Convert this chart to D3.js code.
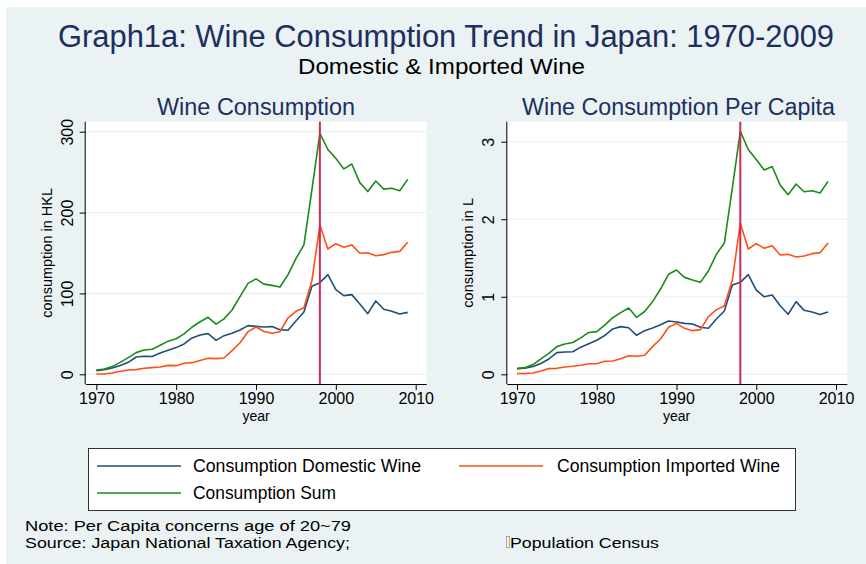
<!DOCTYPE html>
<meta charset="utf-8">
<style>
  body { margin: 0; background: #fff; }
  text { font-family: "Liberation Sans", Arial, sans-serif; }
</style>
<svg width="866" height="564"></svg>
<script src="https://cdn.jsdelivr.net/npm/d3@7"></script>
<script>
// data
var years = d3.range(1970, 2010);
var domesticHKL = [4.5, 5.8, 7.8, 11, 14.8, 21.4, 22.3, 22, 26.4, 29.7, 33, 37.5, 45, 48.6, 50.3, 42, 47.8, 50.7, 54.8, 60.2,
  59.3, 58.5, 59, 55.2, 54.4, 66, 77, 108.8, 113.3, 123.2, 104.7, 97.3, 98.5, 87, 75, 90.7, 80.4, 77.9, 74.6, 76.6];
var importedHKL = [0.4, 0.4, 1.6, 3.7, 5.4, 5.8, 7.4, 8.2, 9, 11, 10.7, 13.6, 14.4, 17, 19.8, 19.4, 20.2, 29.3, 39, 52.7,
  58.5, 53, 50.7, 52.7, 69.6, 77.9, 82.4, 115.8, 184.6, 155, 161.5, 157, 160, 149.6, 150.4, 146.7, 148, 150.8, 152, 163.2];
var sumHKL = [5.4, 6.6, 9.5, 14.8, 20.6, 26.8, 30, 31, 36, 41, 44, 50, 58.5, 65, 70.5, 62, 68.5, 79.5, 96, 112.5,
  118, 111.5, 110, 108, 123, 143, 160, 228, 298, 278, 267, 254, 260, 237, 226, 239, 229, 230, 227, 241];
var domesticPC = [0.073, 0.08, 0.1, 0.14, 0.198, 0.28, 0.288, 0.29, 0.35, 0.395, 0.44, 0.5, 0.585, 0.615, 0.6, 0.503, 0.563, 0.597, 0.64, 0.688,
  0.675, 0.657, 0.649, 0.606, 0.593, 0.713, 0.817, 1.152, 1.186, 1.285, 1.087, 1.0, 1.023, 0.885, 0.774, 0.937, 0.825, 0.804, 0.77, 0.804];
var importedPC = [0.01, 0.01, 0.017, 0.043, 0.073, 0.077, 0.095, 0.103, 0.116, 0.137, 0.137, 0.168, 0.172, 0.2, 0.24, 0.232, 0.245, 0.357, 0.455, 0.606,
  0.657, 0.593, 0.563, 0.576, 0.743, 0.834, 0.881, 1.216, 1.947, 1.616, 1.685, 1.625, 1.659, 1.539, 1.547, 1.513, 1.526, 1.556, 1.569, 1.693];
var sumPC = [0.073, 0.086, 0.125, 0.2, 0.27, 0.357, 0.39, 0.41, 0.47, 0.54, 0.55, 0.635, 0.73, 0.795, 0.855, 0.735, 0.81, 0.937, 1.10, 1.29,
  1.345, 1.25, 1.216, 1.186, 1.332, 1.547, 1.693, 2.40, 3.133, 2.90, 2.77, 2.635, 2.68, 2.44, 2.317, 2.454, 2.355, 2.368, 2.338, 2.488];
var seriesNames = ["Consumption Domestic Wine", "Consumption Imported Wine", "Consumption Sum"];
var xTicks = [1970, 1980, 1990, 2000, 2010];
var yTicksHKL = [0, 100, 200, 300];
var yTicksPC = [0, 1, 2, 3];
var markYear = 1998;

var colors = ["#1f4e79", "#ff4f14", "#1a8a1a"];
var bg = "#eaf2f3";

var svg = d3.select("svg");
svg.append("rect").attr("x", 6).attr("y", 7).attr("width", 860).attr("height", 557).attr("fill", bg);

// fixed-width text helper (the original uses a condensed font)
function label(sel, x, y, size, width, txt) {
  return sel.append("text").attr("x", x).attr("y", y).attr("font-size", size)
    .attr("textLength", width).attr("lengthAdjust", "spacingAndGlyphs").text(txt);
}

label(svg, 58, 47, 31, 776, "Graph1a: Wine Consumption Trend in Japan: 1970-2009").attr("fill", "#1e2f5e");
label(svg, 298, 74, 22, 287, "Domestic & Imported Wine").attr("fill", "#000");

function panel(o) {
  var x = d3.scaleLinear().domain([1970, 2010]).range(o.xr);
  var y = d3.scaleLinear().domain(o.yd).range(o.yr);
  var g = svg.append("g");
  // plot region
  g.append("rect").attr("x", o.box[0]).attr("y", o.box[1])
    .attr("width", o.box[2] - o.box[0]).attr("height", o.box[3] - o.box[1]).attr("fill", "#fff");
  // grid
  g.selectAll(".grid").data(o.yt).enter().append("line")
    .attr("x1", o.box[0]).attr("x2", o.box[2])
    .attr("y1", function (d) { return y(d); }).attr("y2", function (d) { return y(d); })
    .attr("stroke", bg).attr("stroke-width", 1.2);
  // axes
  var ax = g.append("g").attr("transform", "translate(0," + o.box[3] + ")")
    .call(d3.axisBottom(x).tickValues(xTicks).tickFormat(d3.format("d")).tickSize(6).tickSizeOuter(0));
  ax.select(".domain").attr("d", "M" + o.box[0] + ",0.5H" + o.box[2]).attr("stroke", "#000");
  ax.selectAll("text").attr("font-size", 16).attr("fill", "#000").attr("y", 7).attr("dy", "0.8em")
    .style("font-family", "Liberation Sans, Arial, sans-serif");
  var ay = g.append("g").attr("transform", "translate(" + o.box[0] + ",0)")
    .call(d3.axisLeft(y).tickValues(o.yt).tickFormat(d3.format("d")).tickSize(6).tickSizeOuter(0));
  ay.select(".domain").attr("d", "M-0.5," + o.box[1] + "V" + o.box[3]).attr("stroke", "#000");
  ay.selectAll("text").attr("font-size", 16).attr("fill", "#000")
    .attr("text-anchor", "middle").attr("x", null).attr("dy", null)
    .attr("transform", "translate(-13,0) rotate(-90)")
    .style("font-family", "Liberation Sans, Arial, sans-serif");
  // axis titles
  g.append("text").attr("x", (o.xr[0] + o.xr[1]) / 2).attr("y", 421).attr("text-anchor", "middle")
    .attr("font-size", 14).text("year");
  g.append("text").attr("transform", "translate(" + o.ytx + "," + ((o.box[1] + o.box[3]) / 2) + ") rotate(-90)")
    .attr("text-anchor", "middle").attr("font-size", 14.5).text(o.ylab);
  // subtitle
  label(g, o.tx[0], 115, 23.5, o.tx[1] - o.tx[0], o.title).attr("fill", "#1e2f5e");
  // lines
  var line = d3.line().x(function (d, i) { return x(years[i]); }).y(function (d) { return y(d); });
  o.series.forEach(function (s, i) {
    g.append("path").datum(s).attr("fill", "none").attr("stroke", colors[i])
      .attr("stroke-width", 1.6).attr("stroke-linejoin", "round").attr("d", line);
  });
  g.append("line").attr("x1", x(markYear)).attr("x2", x(markYear))
    .attr("y1", o.box[1]).attr("y2", o.box[3])
    .attr("stroke", "#cc2b56").attr("stroke-width", 2);
}

panel({
  xr: [96.3, 415.7], yd: [0, 300], yr: [374.3, 131.7], box: [85.7, 121.7, 426.7, 384],
  yt: yTicksHKL, ylab: "consumption in HKL", ytx: 52, title: "Wine Consumption", tx: [157, 355],
  series: [domesticHKL, importedHKL, sumHKL]
});
panel({
  xr: [517, 836], yd: [0, 3], yr: [374.3, 141.7], box: [507.3, 121.7, 847.3, 384],
  yt: yTicksPC, ylab: "consumption in L", ytx: 473, title: "Wine Consumption Per Capita", tx: [522, 835],
  series: [domesticPC, importedPC, sumPC]
});

// legend
var leg = svg.append("g");
leg.append("rect").attr("x", 88.5).attr("y", 448.5).attr("width", 707).attr("height", 62)
  .attr("fill", "#fff").attr("stroke", "#333").attr("stroke-width", 1);
var legPos = [[97, 466, 228], [459, 466, 223], [97, 493, 143]];
seriesNames.forEach(function (n, i) {
  leg.append("line").attr("x1", legPos[i][0]).attr("x2", legPos[i][0] + 84)
    .attr("y1", legPos[i][1]).attr("y2", legPos[i][1])
    .attr("stroke", colors[i]).attr("stroke-width", 1.6);
  label(leg, legPos[i][0] + (i === 1 ? 98 : 96), legPos[i][1] + 6, 17.5, legPos[i][2], n);
});

// notes
label(svg, 25, 531, 15.5, 326, "Note: Per Capita concerns age of 20~79");
label(svg, 25, 548, 15.5, 325, "Source: Japan National Taxation Agency;");
svg.append("rect").attr("x", 506.5).attr("y", 536.5).attr("width", 3).attr("height", 11)
  .attr("fill", "none").attr("stroke", "#999").attr("stroke-width", 0.8);
label(svg, 510, 548, 15.5, 149, "Population Census");
</script>
